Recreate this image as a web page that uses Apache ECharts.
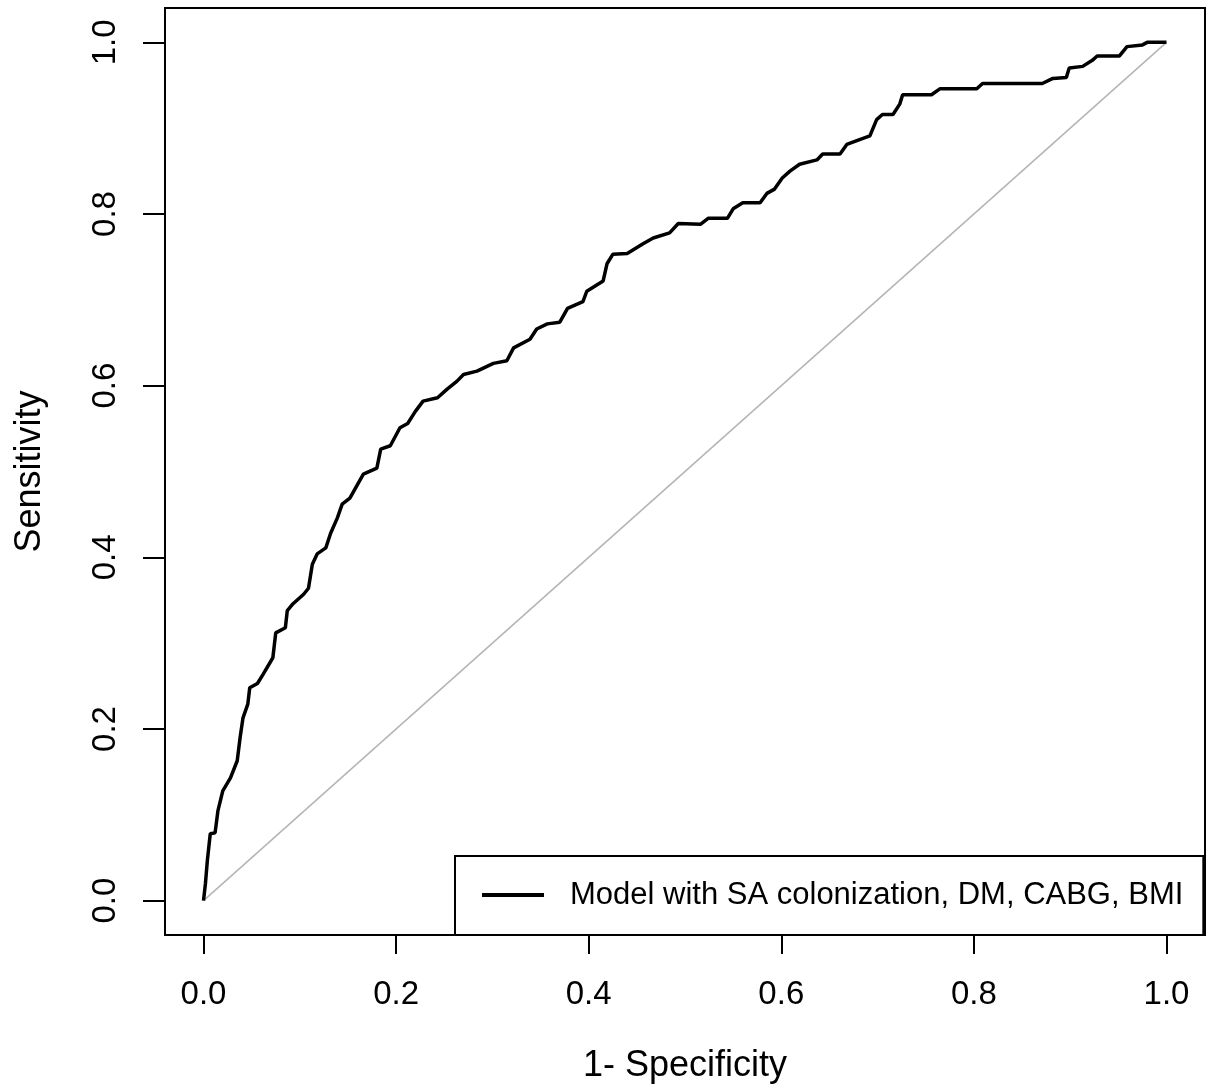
<!DOCTYPE html>
<html>
<head>
<meta charset="utf-8">
<script src="https://cdn.jsdelivr.net/npm/echarts@6/dist/echarts.min.js"></script>
<style>
  html, body { margin: 0; padding: 0; background: #fff; }
  #chart { width: 1208px; height: 1089px; }
</style>
</head>
<body>
<div id="chart"></div>
<script>
// ROC curve (1 - specificity, sensitivity)
const fpr = [
  0, 0.002, 0.004, 0.007, 0.012, 0.015, 0.020, 0.028, 0.035, 0.038,
  0.041, 0.046, 0.048, 0.056, 0.062, 0.072, 0.075, 0.085, 0.087, 0.093,
  0.104, 0.109, 0.113, 0.118, 0.127, 0.132, 0.139, 0.144, 0.152, 0.160,
  0.166, 0.180, 0.184, 0.194, 0.204, 0.212, 0.220, 0.228, 0.243, 0.253,
  0.263, 0.270, 0.284, 0.301, 0.315, 0.322, 0.339, 0.346, 0.357, 0.370,
  0.378, 0.394, 0.398, 0.415, 0.419, 0.425, 0.440, 0.456, 0.467, 0.484,
  0.493, 0.516, 0.524, 0.544, 0.550, 0.560, 0.578, 0.585, 0.593, 0.601,
  0.609, 0.619, 0.637, 0.643, 0.661, 0.668, 0.682, 0.692, 0.699, 0.705,
  0.716, 0.723, 0.726, 0.756, 0.765, 0.803, 0.809, 0.871, 0.882, 0.896,
  0.899, 0.913, 0.923, 0.928, 0.951, 0.959, 0.975, 0.980, 1.000
];
const tpr = [
  0, 0.020, 0.047, 0.078, 0.079, 0.105, 0.128, 0.143, 0.163, 0.190,
  0.213, 0.229, 0.248, 0.253, 0.264, 0.283, 0.312, 0.318, 0.338, 0.346,
  0.357, 0.364, 0.392, 0.404, 0.411, 0.428, 0.446, 0.462, 0.469, 0.485,
  0.497, 0.504, 0.526, 0.530, 0.551, 0.556, 0.570, 0.582, 0.586, 0.596,
  0.605, 0.613, 0.617, 0.626, 0.629, 0.644, 0.654, 0.666, 0.672, 0.674,
  0.690, 0.698, 0.710, 0.722, 0.742, 0.753, 0.754, 0.765, 0.772, 0.778,
  0.789, 0.788, 0.795, 0.795, 0.806, 0.813, 0.813, 0.824, 0.829, 0.842,
  0.850, 0.858, 0.863, 0.870, 0.870, 0.881, 0.887, 0.891, 0.910, 0.916,
  0.916, 0.928, 0.939, 0.939, 0.946, 0.946, 0.952, 0.952, 0.958, 0.959,
  0.970, 0.972, 0.979, 0.984, 0.984, 0.995, 0.997, 1.000, 1.000
];
const refLine = [[0, 0], [1, 1]];
const tickValues = [0, 0.2, 0.4, 0.6, 0.8, 1.0];
const tickLabels = ['0.0', '0.2', '0.4', '0.6', '0.8', '1.0'];
const seriesName = 'Model with SA colonization, DM, CABG, BMI';

const FONT = '"Liberation Sans", Arial, sans-serif';
const chart = echarts.init(document.getElementById('chart'));

function tickLabel(v) {
  const i = tickValues.findIndex((t) => Math.abs(t - v) < 1e-9);
  return i < 0 ? '' : tickLabels[i];
}

function axisCommon(tickLen) {
  return {
    type: 'value',
    min: -0.04,
    max: 1.04,
    axisLine: { show: false, onZero: false },
    splitLine: { show: false },
    axisTick: {
      show: true,
      inside: false,
      length: tickLen,
      customValues: tickValues,
      lineStyle: { color: '#000', width: 2 },
    },
    nameLocation: 'middle',
    nameTextStyle: { color: '#000', fontFamily: FONT, fontSize: 36, lineHeight: 36 },
  };
}

chart.setOption({
  animation: false,
  backgroundColor: '#fff',
  grid: {
    left: 165, top: 8, right: 3, bottom: 154,
    show: true, borderColor: '#000', borderWidth: 2, backgroundColor: 'transparent',
  },
  legend: {
    data: [seriesName],
    left: 455,
    top: 856,
    padding: [23, 20, 24, 27],
    borderColor: '#000',
    borderWidth: 2,
    backgroundColor: '#fff',
    icon: 'rect',
    itemWidth: 62,
    itemHeight: 4,
    selectedMode: false,
    textStyle: {
      color: '#000', fontFamily: FONT, fontSize: 31, lineHeight: 32,
      padding: [0, 0, 0, 21],
    },
  },
  xAxis: Object.assign(axisCommon(19), {
    name: '1- Specificity',
    nameGap: 113,
    axisLabel: {
      customValues: tickValues,
      margin: 43,
      color: '#000', fontFamily: FONT, fontSize: 33, lineHeight: 33,
      formatter: tickLabel,
    },
  }),
  yAxis: Object.assign(axisCommon(22), {
    name: 'Sensitivity',
    nameGap: 117,
    axisLabel: {
      customValues: tickValues,
      rotate: 90,
      margin: 43,
      color: '#000', fontFamily: FONT, fontSize: 33, lineHeight: 33,
      formatter: tickLabel,
    },
  }),
  series: [
    {
      name: 'reference',
      type: 'line',
      data: refLine,
      symbol: 'none',
      silent: true,
      lineStyle: { color: '#b4b4b4', width: 1.5 },
      z: 1,
    },
    {
      name: seriesName,
      type: 'line',
      data: fpr.map((x, i) => [x, tpr[i]]),
      symbol: 'none',
      itemStyle: { color: '#000' },
      lineStyle: { color: '#000', width: 3.5 },
      z: 2,
    },
  ],
});
</script>
</body>
</html>
